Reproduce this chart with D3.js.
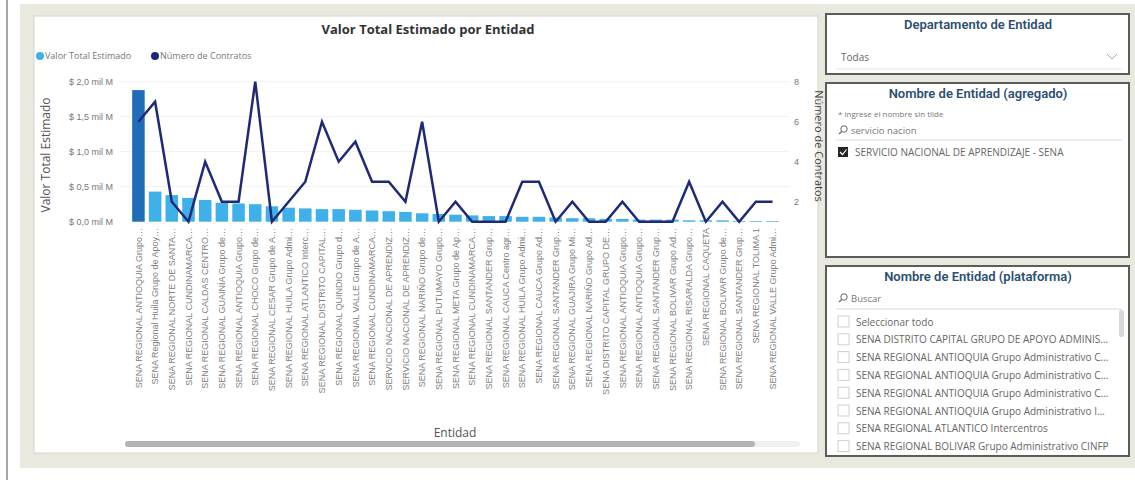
<!DOCTYPE html>
<html>
<head>
<meta charset="utf-8">
<script src="https://cdn.jsdelivr.net/npm/d3@7"></script>
<style>
  body { margin: 0; background: #fff; }
  svg { display: block; font-family: "Open Sans", "Noto Sans", sans-serif; }
</style>
</head>
<body>
<div id="chart"></div>
<script>
// entidades, as shown on the x axis
const entidades = [
  'SENA REGIONAL ANTIOQUIA Grupo…', 'SENA Regional Huila Grupo de Apoy…', 'SENA REGIONAL NORTE DE SANTA…',
  'SENA REGIONAL CUNDINAMARCA…', 'SENA REGIONAL CALDAS CENTRO…', 'SENA REGIONAL GUAINÍA Grupo de…',
  'SENA REGIONAL ANTIOQUIA Grupo…', 'SENA REGIONAL CHOCO Grupo de…', 'SENA REGIONAL CESAR Grupo de A…',
  'SENA REGIONAL HUILA Grupo Admi…', 'SENA REGIONAL ATLANTICO Interc…', 'SENA REGIONAL DISTRITO CAPITAL…',
  'SENA REGIONAL QUINDIO Grupo d…', 'SENA REGIONAL VALLE Grupo de A…', 'SENA REGIONAL CUNDINAMARCA…',
  'SERVICIO NACIONAL DE APRENDIZ…', 'SERVICIO NACIONAL DE APRENDIZ…', 'SENA REGIONAL NARIÑO Grupo de…',
  'SENA REGIONAL PUTUMAYO Grupo…', 'SENA REGIONAL META Grupo de Ap…', 'SENA REGIONAL CUNDINAMARCA…',
  'SENA REGIONAL SANTANDER Grup…', 'SENA REGIONAL CAUCA Centro agr…', 'SENA REGIONAL HUILA Grupo Admi…',
  'SENA REGIONAL CAUCA Grupo Ad…', 'SENA REGIONAL SANTANDER Grup…', 'SENA REGIONAL GUAJIRA Grupo Mi…',
  'SENA REGIONAL NARIÑO Grupo Ad…', 'SENA DISTRITO CAPITAL GRUPO DE…', 'SENA REGIONAL ANTIOQUIA Grupo…',
  'SENA REGIONAL ANTIOQUIA Grupo…', 'SENA REGIONAL SANTANDER Grup…', 'SENA REGIONAL BOLIVAR Grupo Ad…',
  'SENA REGIONAL RISARALDA Grupo…', 'SENA REGIONAL CAQUETA', 'SENA REGIONAL BOLIVAR Grupo de…',
  'SENA REGIONAL SANTANDER Grup…', 'SENA REGIONAL TOLIMA 1', 'SENA REGIONAL VALLE Grupo Admi…'
];

// Valor Total Estimado (mil M)
const valorTotal = [
  1.88, 0.43, 0.38, 0.34, 0.31, 0.27, 0.26, 0.25, 0.22, 0.20,
  0.19, 0.18, 0.18, 0.17, 0.16, 0.15, 0.14, 0.12, 0.11, 0.10,
  0.09, 0.08, 0.08, 0.07, 0.07, 0.06, 0.05, 0.05, 0.04, 0.04,
  0.03, 0.03, 0.03, 0.02, 0.02, 0.02, 0.01, 0.01, 0.01
];

// Número de Contratos
const numContratos = [
  6, 7, 2, 1, 4, 2, 2, 8, 1, 2,
  3, 6, 4, 5, 3, 3, 2, 6, 1, 2,
  1, 1, 1, 3, 3, 1, 2, 1, 1, 2,
  1, 1, 1, 3, 1, 2, 1, 2, 2
];

const leftTicks = [0, 0.5, 1.0, 1.5, 2.0];
const rightTicks = [2, 4, 6, 8];

const plataformaItems = [
  'Seleccionar todo',
  'SENA DISTRITO CAPITAL GRUPO DE APOYO ADMINIS…',
  'SENA REGIONAL ANTIOQUIA Grupo Administrativo C…',
  'SENA REGIONAL ANTIOQUIA Grupo Administrativo C…',
  'SENA REGIONAL ANTIOQUIA Grupo Administrativo C…',
  'SENA REGIONAL ANTIOQUIA Grupo Administrativo I…',
  'SENA REGIONAL ATLANTICO Intercentros',
  'SENA REGIONAL BOLIVAR Grupo Administrativo CINFP'
];

const width = 1135;
const height = 480;

const svg = d3.select('#chart').append('svg')
  .attr('width', width)
  .attr('height', height);

// page background
svg.append('rect').attr('width', width).attr('height', height).attr('fill', '#fff');
svg.append('rect').attr('x', 20).attr('y', 4).attr('width', width - 20).attr('height', 464).attr('fill', '#eae9df');
svg.append('line').attr('x1', 7).attr('x2', 7).attr('y1', 0).attr('y2', height)
  .attr('stroke', '#8a8a8a').attr('stroke-width', 1.5);

// chart card
svg.append('rect').attr('x', 34).attr('y', 16).attr('width', 784).attr('height', 437)
  .attr('fill', '#fff').attr('stroke', '#d6d3cc');

// ---- chart ----
const x = d3.scaleBand().domain(d3.range(entidades.length)).range([128, 783]).padding(0.25);
const yL = d3.scaleLinear().domain([0, 2.0]).range([221.7, 81.7]);
const yR = d3.scaleLinear().domain([1, 8]).range([221.7, 81.7]);

svg.append('text').attr('x', 428).attr('y', 34).attr('text-anchor', 'middle')
  .attr('font-size', 13).attr('font-weight', 'bold').attr('fill', '#333')
  .text('Valor Total Estimado por Entidad');

// legend
svg.append('circle').attr('cx', 40).attr('cy', 56).attr('r', 4).attr('fill', '#3fb0e8');
svg.append('text').attr('x', 45).attr('y', 59).attr('font-size', 9).attr('fill', '#777').text('Valor Total Estimado');
svg.append('circle').attr('cx', 155).attr('cy', 56).attr('r', 4).attr('fill', '#1e2a78');
svg.append('text').attr('x', 160).attr('y', 59).attr('font-size', 9).attr('fill', '#777').text('Número de Contratos');

// gridlines
svg.append('g').selectAll('line').data(leftTicks.slice(1)).join('line')
  .attr('x1', 120).attr('x2', 790)
  .attr('y1', d => yL(d)).attr('y2', d => yL(d))
  .attr('stroke', '#f1f1f1');

// left axis
const gL = svg.append('g').attr('transform', 'translate(113,0)')
  .call(d3.axisLeft(yL).tickValues(leftTicks).tickSize(0).tickPadding(0)
    .tickFormat(d => '$ ' + d3.format('.1f')(d).replace('.', ',') + ' mil M'));
gL.select('.domain').remove();
gL.selectAll('text').attr('font-size', 9).attr('fill', '#777');

svg.append('text').attr('transform', 'translate(50,155) rotate(-90)')
  .attr('text-anchor', 'middle').attr('font-size', 12).attr('fill', '#555')
  .text('Valor Total Estimado');

// right axis
const gR = svg.append('g').attr('transform', 'translate(794,0)')
  .call(d3.axisRight(yR).tickValues(rightTicks).tickSize(0).tickPadding(0).tickFormat(d3.format('d')));
gR.select('.domain').remove();
gR.selectAll('text').attr('font-size', 9).attr('fill', '#777');

svg.append('text').attr('transform', 'translate(815,146) rotate(90)')
  .attr('text-anchor', 'middle').attr('font-size', 11).attr('fill', '#444')
  .text('Número de Contratos');

// bars
svg.append('g').selectAll('rect').data(valorTotal).join('rect')
  .attr('x', (d, i) => x(i))
  .attr('y', d => yL(d))
  .attr('width', x.bandwidth())
  .attr('height', d => yL(0) - yL(d))
  .attr('fill', (d, i) => i === 0 ? '#1f6db8' : '#3fb0e8');

// line
const line = d3.line()
  .x((d, i) => x(i) + x.bandwidth() / 2)
  .y(d => yR(d));
svg.append('path').datum(numContratos)
  .attr('d', line)
  .attr('fill', 'none')
  .attr('stroke', '#1e2a78')
  .attr('stroke-width', 2.5)
  .attr('stroke-linejoin', 'miter');

// x axis labels
const gX = svg.append('g').attr('transform', 'translate(0,228)')
  .call(d3.axisBottom(x).tickSize(0).tickPadding(0).tickFormat(i => entidades[i]));
gX.select('.domain').remove();
gX.selectAll('text')
  .attr('font-size', 9).attr('fill', '#808080')
  .attr('text-anchor', 'end')
  .attr('transform', 'rotate(-90)')
  .attr('x', 0).attr('y', 0).attr('dy', '0.35em');

svg.append('text').attr('x', 455).attr('y', 437).attr('text-anchor', 'middle')
  .attr('font-size', 12).attr('fill', '#555').text('Entidad');

// scrollbar
svg.append('rect').attr('x', 125).attr('y', 441).attr('width', 675).attr('height', 6).attr('rx', 3).attr('fill', '#f0f0f0');
svg.append('rect').attr('x', 125).attr('y', 441).attr('width', 630).attr('height', 6).attr('rx', 3).attr('fill', '#b3b3b3');

// ---- slicers ----
const titleColor = '#2c4f72';
function panel(y, h, title) {
  svg.append('rect').attr('x', 826).attr('y', y).attr('width', 303).attr('height', h)
    .attr('fill', '#fff').attr('stroke', '#5b5b5b').attr('stroke-width', 2);
  svg.append('text').attr('x', 978).attr('y', y + 15).attr('text-anchor', 'middle')
    .attr('font-size', 13).attr('fill', titleColor).attr('font-weight', 600)
    .attr('font-family', '"Liberation Sans Narrow", "Roboto", sans-serif')
    .text(title);
}

function searchIcon(cx, cy) {
  svg.append('circle').attr('cx', cx + 2).attr('cy', cy - 2).attr('r', 3.2)
    .attr('fill', 'none').attr('stroke', '#666').attr('stroke-width', 1);
  svg.append('line').attr('x1', cx - 0.5).attr('y1', cy + 0.5).attr('x2', cx - 3).attr('y2', cy + 3)
    .attr('stroke', '#666').attr('stroke-width', 1.2);
}

panel(14, 60, 'Departamento de Entidad');
svg.append('text').attr('x', 841).attr('y', 61).attr('font-size', 10).attr('fill', '#666').text('Todas');
svg.append('path').attr('d', 'M1107,54 L1112,59 L1117,54').attr('fill', 'none').attr('stroke', '#aaa');
svg.append('line').attr('x1', 836).attr('x2', 1122).attr('y1', 69).attr('y2', 69).attr('stroke', '#e6e6e6');

panel(83, 174, 'Nombre de Entidad (agregado)');
svg.append('text').attr('x', 838).attr('y', 117).attr('font-size', 8).attr('fill', '#777').text('* ingrese el nombre sin tilde');
searchIcon(842, 131);
svg.append('text').attr('x', 851).attr('y', 134).attr('font-size', 9.5).attr('fill', '#777').text('servicio nacion');
svg.append('line').attr('x1', 836).attr('x2', 1122).attr('y1', 140).attr('y2', 140).attr('stroke', '#ddd');
svg.append('rect').attr('x', 838).attr('y', 147).attr('width', 10).attr('height', 10).attr('fill', '#252525');
svg.append('path').attr('d', 'M840,152 L842.5,154.5 L846.5,149.5').attr('fill', 'none').attr('stroke', '#fff').attr('stroke-width', 1.2);
svg.append('text').attr('x', 855).attr('y', 156).attr('font-size', 10).attr('fill', '#666')
  .text('SERVICIO NACIONAL DE APRENDIZAJE - SENA');

panel(266, 190, 'Nombre de Entidad (plataforma)');
searchIcon(842, 299);
svg.append('text').attr('x', 851).attr('y', 302).attr('font-size', 9.5).attr('fill', '#777').text('Buscar');
svg.append('line').attr('x1', 836).attr('x2', 1122).attr('y1', 309).attr('y2', 309).attr('stroke', '#e6d6d6');
svg.append('rect').attr('x', 1119).attr('y', 310).attr('width', 5).attr('height', 27).attr('rx', 2).attr('fill', '#d8d8d8');

const rows = svg.append('g').selectAll('g').data(plataformaItems).join('g')
  .attr('transform', (d, i) => `translate(0,${322 + i * 17.8})`);
rows.append('rect').attr('x', 838).attr('y', -6).attr('width', 11).attr('height', 11)
  .attr('fill', '#fff').attr('stroke', '#d0d0d0');
rows.append('text').attr('x', 856).attr('y', 3.5).attr('font-size', 10).attr('fill', '#666')
  .text(d => d);
</script>
</body>
</html>
